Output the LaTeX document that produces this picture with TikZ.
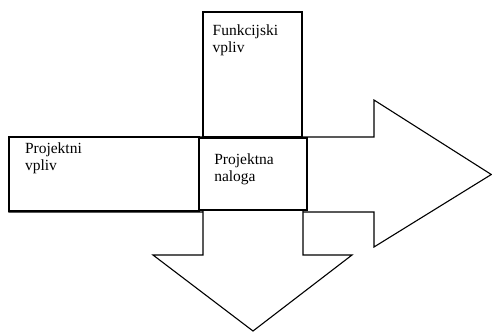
\documentclass[tikz,border=0pt]{standalone}
\usepackage{fontspec}
\setmainfont{Liberation Serif}
\usetikzlibrary{calc}
\begin{document}
\begin{tikzpicture}[x=1pt, y=-1pt,
  outline/.style={draw=black, line width=1.1pt, line join=miter},
  box/.style={outline, fill=white, inner sep=0pt, rectangle},
  heavybox/.style={box, line width=1.8pt},
  label text/.style={inner sep=0pt, anchor=base west, align=left,
    font=\fontsize{15.5}{17.3}\selectfont}]
  \useasboundingbox (0,0) rectangle (492,333);

  % horizontal arrow pointing right
  \draw[outline, fill=white] (9,137) -- (374,137) -- (374,100) -- (491.3,174.5)
    -- (374,247) -- (374,212) -- (9,212) -- cycle;

  % vertical arrow pointing down
  \draw[outline, fill=white] (203,211) -- (203,255) -- (153,255) -- (253,331)
    -- (352,255) -- (303,255) -- (303,211);

  % boxes
  \node[box, minimum width=99pt, minimum height=125pt] (funk) at (252.5,74.5) {};
  \node[heavybox, minimum width=190pt, minimum height=74pt] (projv) at (104,174) {};
  \node[heavybox, minimum width=108pt, minimum height=72pt] (nal) at (253,174) {};

  % captions (base anchor sits on the last line)
  \node[label text] (funkt) at ($(funk.north west)+(10,41.3)$) {Funkcijski\\vpliv};
  \node[label text] (projvt) at ($(projv.north west)+(16.7,34.7)$) {Projektni\\vpliv};
  \node[label text] (nalt) at ($(nal.north west)+(16,44.3)$) {Projektna\\naloga};
\end{tikzpicture}
\end{document}
